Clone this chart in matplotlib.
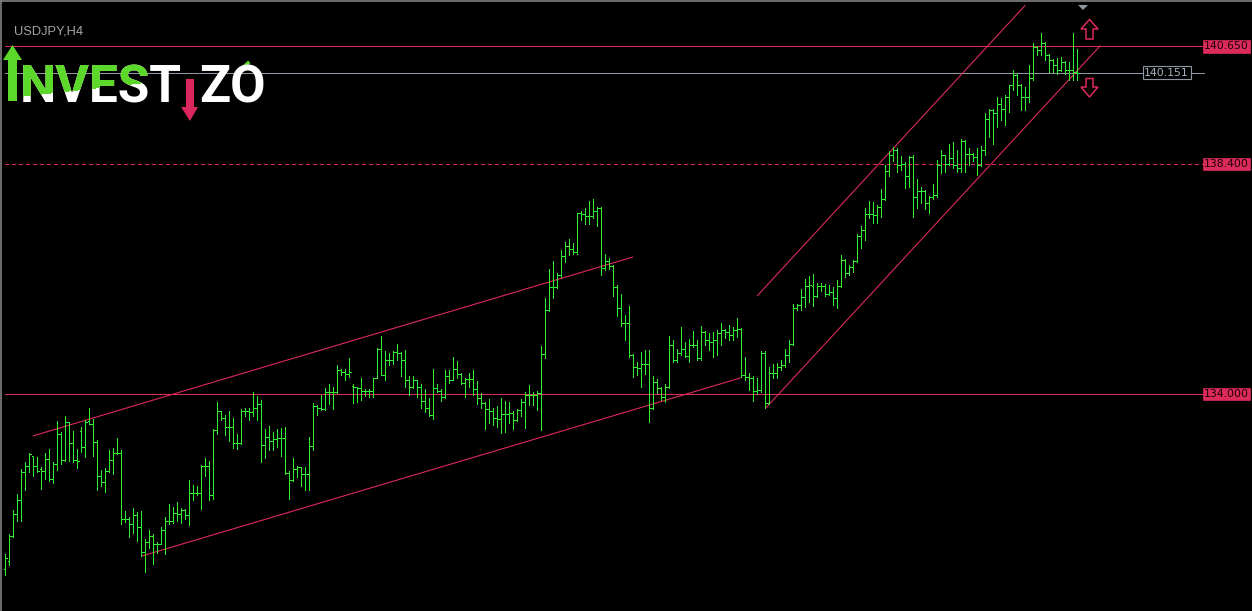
import matplotlib
matplotlib.use('Agg')
import matplotlib.pyplot as plt
from matplotlib.patches import Polygon
from matplotlib.transforms import Bbox
import numpy as np

# USDJPY H4 bars
bar_open = [
    130.66, 130.80, 131.28, 131.70, 131.97, 132.50, 132.62, 132.81, 132.62, 132.56,
    132.52, 132.75, 132.37, 132.66, 133.23, 132.73, 133.46, 133.06, 132.74, 133.29,
    132.99, 133.49, 133.42, 133.08, 132.43, 132.32, 132.53, 132.73, 132.88, 132.88,
    131.61, 131.61, 131.52, 131.68, 131.45, 130.98, 131.17, 131.28, 131.14, 131.14,
    131.39, 131.58, 131.58, 131.72, 131.70, 131.79, 131.69, 132.10, 132.11, 132.10,
    132.63, 132.63, 132.07, 133.31, 133.67, 133.54, 133.37, 133.37, 133.07, 133.07,
    133.68, 133.68, 133.66, 133.74, 133.80, 133.02, 133.17, 133.11, 133.13, 133.15,
    133.16, 132.48, 132.35, 132.56, 132.60, 132.47, 132.47, 133.00, 133.77, 133.74,
    133.72, 134.03, 134.03, 134.04, 134.45, 134.43, 134.38, 134.16, 134.13, 134.11,
    134.06, 134.06, 134.06, 134.30, 134.87, 134.36, 134.66, 134.65, 134.81, 134.78,
    134.65, 134.27, 134.14, 134.26, 134.14, 133.87, 133.74, 133.60, 134.11, 134.06,
    133.95, 134.34, 134.26, 134.48, 134.38, 134.22, 134.28, 134.28, 134.09, 133.92,
    133.82, 133.71, 133.68, 133.55, 133.52, 133.62, 133.61, 133.63, 133.50, 133.70,
    133.85, 133.98, 133.98, 133.98, 134.01, 134.76, 135.61, 136.04, 136.04, 136.28,
    136.64, 136.83, 136.77, 136.72, 137.46, 137.44, 137.40, 137.40, 137.50, 137.55,
    136.42, 136.54, 136.45, 136.04, 135.64, 135.36, 135.36, 134.74, 134.52, 134.49,
    134.57, 134.58, 133.74, 134.23, 134.11, 133.95, 134.13, 134.94, 134.65, 134.78,
    134.87, 134.73, 134.94, 134.94, 134.68, 135.19, 135.03, 135.00, 135.03, 135.16,
    135.22, 135.19, 135.13, 135.22, 135.24, 134.36, 134.32, 134.30, 134.06, 134.08,
    134.79, 133.83, 134.40, 134.40, 134.52, 134.56, 134.75, 134.96, 135.64, 135.70,
    135.86, 136.07, 136.07, 135.87, 136.07, 136.07, 135.91, 135.96, 135.83, 136.07,
    136.56, 136.32, 136.43, 136.55, 137.02, 137.14, 137.44, 137.44, 137.42, 137.58,
    137.74, 138.27, 138.57, 138.67, 138.38, 138.41, 138.17, 138.54, 137.76, 137.89,
    137.88, 137.65, 137.76, 137.81, 138.38, 138.57, 138.41, 138.51, 138.38, 138.32,
    138.84, 138.60, 138.60, 138.54, 138.38, 138.67, 139.27, 139.43, 139.37, 139.54,
    139.46, 139.69, 139.91, 140.10, 139.91, 139.69, 139.69, 140.04, 140.64, 140.58,
    140.71, 140.49, 140.39, 140.29, 140.20, 140.36, 140.20, 140.20, 140.17,
]
bar_high = [
    130.94, 131.33, 131.78, 132.09, 132.56, 132.70, 132.87, 132.81, 132.80, 132.61,
    132.88, 132.95, 132.70, 133.48, 133.27, 133.58, 133.47, 133.29, 132.94, 133.36,
    133.50, 133.73, 133.52, 133.12, 132.55, 132.58, 132.93, 132.96, 133.15, 132.93,
    131.76, 131.65, 131.81, 131.75, 131.76, 131.22, 131.40, 131.32, 131.16, 131.46,
    131.64, 131.90, 131.83, 131.93, 131.81, 131.80, 132.36, 132.25, 132.24, 132.65,
    132.77, 132.72, 133.33, 133.85, 133.68, 133.60, 133.67, 133.55, 133.23, 133.72,
    133.74, 133.74, 134.04, 133.96, 133.88, 133.34, 133.39, 133.27, 133.33, 133.35,
    133.36, 132.53, 132.78, 132.62, 132.61, 132.61, 133.18, 133.82, 133.79, 133.98,
    134.11, 134.19, 134.14, 134.55, 134.47, 134.47, 134.68, 134.20, 134.14, 134.31,
    134.10, 134.09, 134.30, 134.89, 135.11, 134.83, 134.78, 134.82, 134.96, 134.80,
    134.84, 134.34, 134.34, 134.27, 134.19, 134.09, 133.92, 134.48, 134.19, 134.09,
    134.46, 134.46, 134.70, 134.64, 134.40, 134.30, 134.40, 134.45, 134.24, 134.01,
    133.85, 133.90, 133.73, 133.77, 133.92, 133.86, 133.85, 133.68, 133.72, 133.91,
    134.04, 134.17, 134.04, 134.06, 134.92, 135.84, 136.40, 136.54, 136.32, 136.75,
    136.91, 136.96, 136.89, 137.47, 137.51, 137.55, 137.69, 137.74, 137.57, 137.57,
    136.68, 136.61, 136.47, 136.08, 135.91, 135.51, 135.68, 134.76, 134.62, 134.81,
    134.84, 134.85, 134.34, 134.28, 134.14, 134.20, 135.11, 135.04, 134.87, 135.29,
    135.00, 135.06, 135.20, 135.04, 135.30, 135.21, 135.16, 135.19, 135.22, 135.35,
    135.24, 135.33, 135.29, 135.45, 135.26, 134.70, 134.40, 134.34, 134.30, 134.83,
    134.83, 134.52, 134.57, 134.60, 134.66, 134.87, 135.03, 135.73, 135.73, 136.01,
    136.21, 136.25, 136.30, 136.13, 136.12, 136.10, 136.08, 136.05, 136.18, 136.66,
    136.59, 136.47, 136.56, 137.07, 137.21, 137.55, 137.69, 137.68, 137.62, 137.92,
    138.38, 138.64, 138.72, 138.70, 138.55, 138.43, 138.56, 138.57, 138.11, 137.97,
    137.90, 137.79, 138.01, 138.48, 138.67, 138.58, 138.78, 138.83, 138.67, 138.88,
    138.86, 138.70, 138.62, 138.70, 138.75, 139.37, 139.46, 139.46, 139.69, 139.66,
    139.73, 139.92, 140.20, 140.12, 139.94, 139.88, 140.29, 140.71, 140.66, 140.90,
    140.73, 140.51, 140.41, 140.42, 140.45, 140.38, 140.36, 140.91, 140.61,
]
bar_low = [
    130.54, 130.73, 131.26, 131.58, 131.58, 132.16, 132.51, 132.43, 132.51, 132.19,
    132.37, 132.34, 132.29, 132.55, 132.66, 132.72, 132.72, 132.69, 132.59, 132.89,
    132.80, 133.42, 132.82, 132.16, 132.24, 132.13, 132.50, 132.47, 132.85, 131.51,
    131.56, 131.27, 131.35, 131.19, 130.90, 130.60, 131.05, 130.75, 130.96, 131.13,
    130.93, 131.52, 131.54, 131.58, 131.54, 131.61, 131.50, 131.97, 132.07, 131.80,
    132.44, 131.97, 131.99, 133.24, 133.50, 133.22, 133.10, 132.96, 132.95, 133.04,
    133.58, 133.50, 133.57, 133.50, 132.70, 132.77, 132.93, 132.92, 132.99, 132.81,
    132.47, 131.99, 132.34, 132.42, 132.24, 132.16, 132.16, 132.92, 133.60, 133.69,
    133.70, 133.81, 133.72, 134.01, 134.36, 134.26, 134.33, 133.83, 133.85, 133.89,
    133.97, 133.94, 133.94, 134.30, 134.36, 134.26, 134.55, 134.57, 134.66, 134.34,
    134.14, 133.98, 134.11, 133.94, 133.73, 133.66, 133.57, 133.53, 134.04, 133.87,
    133.92, 134.22, 134.26, 134.30, 134.20, 133.95, 134.14, 133.98, 133.81, 133.73,
    133.34, 133.44, 133.41, 133.36, 133.25, 133.27, 133.44, 133.34, 133.48, 133.58,
    133.35, 133.79, 133.79, 133.69, 133.31, 134.68, 135.58, 135.83, 136.02, 136.24,
    136.53, 136.66, 136.68, 136.68, 137.33, 137.25, 137.26, 137.36, 137.22, 136.28,
    136.37, 136.40, 135.87, 135.49, 135.30, 135.03, 134.71, 134.32, 134.36, 134.13,
    134.39, 133.47, 133.72, 134.01, 133.88, 133.85, 134.11, 134.62, 134.62, 134.74,
    134.71, 134.62, 134.90, 134.65, 134.65, 134.94, 134.84, 134.70, 134.75, 134.94,
    135.07, 135.03, 135.03, 135.10, 134.33, 134.27, 134.08, 133.87, 134.00, 134.03,
    133.73, 133.80, 134.30, 134.30, 134.46, 134.52, 134.62, 134.94, 135.61, 135.61,
    135.67, 135.77, 135.69, 135.85, 135.98, 135.87, 135.89, 135.70, 135.65, 136.05,
    136.24, 136.28, 136.34, 136.53, 136.80, 136.95, 137.36, 137.27, 137.27, 137.39,
    137.72, 138.17, 138.45, 138.25, 138.29, 137.95, 137.97, 137.39, 137.55, 137.65,
    137.54, 137.47, 137.74, 137.77, 138.22, 138.24, 138.38, 138.32, 138.24, 138.25,
    138.25, 138.38, 138.46, 138.19, 138.36, 138.58, 138.92, 138.78, 139.11, 139.24,
    139.15, 139.40, 139.82, 139.72, 139.43, 139.43, 139.59, 140.01, 140.49, 140.49,
    140.39, 140.17, 140.17, 140.13, 140.18, 140.13, 140.01, 140.01, 140.01,
]
bar_close = [
    130.87, 131.28, 131.70, 131.97, 132.50, 132.62, 132.85, 132.62, 132.53, 132.52,
    132.75, 132.37, 132.66, 133.23, 132.73, 133.46, 133.06, 132.74, 132.72, 132.99,
    133.46, 133.42, 133.08, 132.43, 132.32, 132.53, 132.73, 132.88, 132.88, 131.61,
    131.61, 131.52, 131.68, 131.45, 130.98, 131.17, 131.28, 131.14, 131.14, 131.39,
    131.58, 131.58, 131.72, 131.70, 131.79, 131.69, 132.10, 132.11, 132.10, 132.63,
    132.63, 132.07, 133.31, 133.67, 133.54, 133.37, 133.37, 133.07, 133.07, 133.68,
    133.68, 133.66, 133.74, 133.80, 133.02, 133.17, 133.11, 133.13, 133.15, 133.16,
    132.48, 132.35, 132.56, 132.60, 132.47, 132.47, 133.00, 133.77, 133.74, 133.72,
    134.03, 134.03, 134.04, 134.45, 134.43, 134.38, 134.43, 134.13, 134.11, 134.06,
    134.06, 134.06, 134.30, 134.87, 134.36, 134.66, 134.65, 134.81, 134.78, 134.65,
    134.27, 134.14, 134.26, 134.14, 133.87, 133.74, 133.60, 134.11, 134.06, 133.95,
    134.34, 134.26, 134.48, 134.38, 134.22, 134.28, 134.28, 134.09, 133.92, 133.82,
    133.71, 133.68, 133.55, 133.52, 133.62, 133.61, 133.63, 133.50, 133.70, 133.85,
    133.98, 133.98, 133.98, 134.01, 134.76, 135.61, 136.04, 136.04, 136.28, 136.64,
    136.83, 136.77, 136.72, 137.46, 137.44, 137.40, 137.40, 137.50, 137.55, 136.42,
    136.54, 136.45, 136.04, 135.64, 135.36, 135.36, 134.74, 134.52, 134.49, 134.57,
    134.58, 133.74, 134.23, 134.11, 133.95, 134.13, 134.94, 134.65, 134.78, 134.87,
    134.73, 134.94, 134.94, 134.68, 135.19, 135.03, 135.00, 135.03, 135.16, 135.22,
    135.19, 135.13, 135.22, 135.24, 134.36, 134.32, 134.30, 134.06, 134.08, 134.79,
    133.83, 134.40, 134.40, 134.52, 134.56, 134.75, 134.96, 135.64, 135.70, 135.86,
    136.07, 136.09, 135.87, 136.07, 136.07, 135.91, 135.96, 135.83, 136.07, 136.56,
    136.32, 136.43, 136.55, 137.02, 137.14, 137.44, 137.44, 137.42, 137.58, 137.74,
    138.27, 138.57, 138.67, 138.38, 138.41, 138.17, 138.54, 137.76, 137.89, 137.88,
    137.65, 137.76, 137.81, 138.38, 138.57, 138.41, 138.51, 138.38, 138.32, 138.84,
    138.60, 138.60, 138.54, 138.38, 138.67, 139.27, 139.43, 139.37, 139.54, 139.46,
    139.69, 139.91, 140.10, 139.91, 139.69, 139.69, 140.04, 140.64, 140.58, 140.71,
    140.49, 140.39, 140.29, 140.20, 140.36, 140.20, 140.20, 140.17, 140.15,
]

# horizontal levels drawn on the chart
level_prices = [140.650, 138.400, 134.000]
level_labels = ['140.650', '138.400', '134.000']
bid_price = 140.151
bid_label = '140.151'

# trend channels: (bar index start, bar index end), (price start, price end)
channel_lines = [
    ([6.99, 156.85], [133.20, 136.62]),
    ([34.1, 183.9], [130.90, 134.31]),
    ([188.0, 254.9], [135.88, 141.43]),
    ([190.1, 273.7], [133.73, 140.66]),
]

symbol_title = 'USDJPY,H4'

W, H = 1252, 611
GREEN = '#30f030'
CRIMSON = '#dc2a5a'
GRAY = '#8e98a4'
LOGO_GREEN = '#5bd82a'
PX = 0.72  # one pixel in points


def fxy(x, y):
    # pixel position -> figure fraction
    return x / W, 1 - y / H


fig = plt.figure(figsize=(W / 100, H / 100), dpi=100)
fig.patch.set_facecolor('black')
ax = fig.add_axes([0, 0, 1, 1])
ax.set_axis_off()
ax.set_xlim(-1.325, 311.675)
ax.set_ylim(129.849, 141.538)

idx = np.arange(len(bar_close))

# levels
for p in level_prices:
    ls = (0, (3, 3)) if abs(p - 138.4) < 1e-6 else '-'
    ax.axhline(p, xmin=5 / W, xmax=1204 / W, color=CRIMSON, lw=PX, linestyle=ls,
               antialiased=False, zorder=1)
ax.axhline(bid_price, xmin=5 / W, xmax=1204 / W, color=GRAY, lw=PX, antialiased=False, zorder=1)

# channels
for xs, ys in channel_lines:
    ax.plot(xs, ys, color=CRIMSON, lw=0.8, zorder=2)

# OHLC bars
ax.vlines(idx, bar_low, bar_high, color=GREEN, lw=PX, antialiased=False, zorder=3)
ax.hlines(bar_open, idx - 0.45, idx, color=GREEN, lw=PX, antialiased=False, zorder=3)
ax.hlines(bar_close, idx, idx + 0.45, color=GREEN, lw=PX, antialiased=False, zorder=3)

# price labels on the right
trans = ax.get_yaxis_transform()
for p, lab in zip(level_prices, level_labels):
    ax.text(1226.5 / W, p, lab, transform=trans, ha='center', va='center',
            fontsize=7.8, color='#1a0008', family='DejaVu Sans',
            bbox=dict(boxstyle='square,pad=0.12', fc=CRIMSON, ec=CRIMSON, lw=0.5), zorder=5)
ax.text(1166.5 / W, bid_price, bid_label, transform=trans, ha='center', va='center',
        fontsize=7.8, color='#a8b0bb', family='DejaVu Sans',
        bbox=dict(boxstyle='square,pad=0.15', fc='black', ec=GRAY, lw=0.8), zorder=5)

# symbol title
fig.text(*fxy(14, 35), symbol_title, fontsize=9.3, color='#a4a4a4',
         family='Liberation Sans', ha='left', va='baseline')

# logo: green arrow as first I
up = [(12.5, 45), (22, 60), (17, 60), (17, 101), (8, 101), (8, 60), (3, 60)]
fig.patches.append(Polygon([fxy(*p) for p in up], closed=True, fc=LOGO_GREEN, ec='none',
                           transform=fig.transFigure))
fig.text(*fxy(20, 103), 'NVEST', fontsize=37, fontweight='bold', color='white',
         family='Roboto', ha='left', va='baseline')
# green upper part of NVES, slanted boundary, done with narrow clip strips
for sx in range(18, 150, 3):
    yb = 99 - sx * 0.11
    g = fig.text(*fxy(20, 103), 'NVEST', fontsize=37, fontweight='bold', color=LOGO_GREEN,
                 family='Roboto', ha='left', va='baseline')
    g.set_clip_box(Bbox([[sx, H - yb], [sx + 3, H - 30]]))
down = [(186, 79), (194, 79), (194, 107), (198, 107), (190, 121), (181, 107), (186, 107)]
fig.patches.append(Polygon([fxy(*p) for p in down], closed=True, fc='#d9265c', ec='none',
                           transform=fig.transFigure))
fig.text(*fxy(199, 103), 'ZO', fontsize=37, fontweight='bold', color='white',
         family='Roboto', ha='left', va='baseline')
fig.lines.append(plt.Line2D([238 / W, 248 / W], [1 - 72 / H, 1 - 63 / H], color=LOGO_GREEN,
                            lw=2.5, transform=fig.transFigure))

# hollow arrows near the last bars
arr_up = [(1089.5, 19.5), (1098, 29), (1093, 29), (1093, 39), (1086, 39), (1086, 29), (1081, 29)]
arr_dn = [(1086, 78.5), (1093, 78.5), (1093, 87), (1098, 87), (1089.5, 97), (1081, 87), (1086, 87)]
for shape in (arr_up, arr_dn):
    fig.patches.append(Polygon([fxy(*p) for p in shape], closed=True, fc='none', ec=CRIMSON,
                               lw=1.1, transform=fig.transFigure))

# shift marker
fig.patches.append(Polygon([fxy(1078, 5), fxy(1088, 5), fxy(1083, 10)], closed=True,
                           fc='#8c96a0', ec='none', transform=fig.transFigure))

# frame
fig.lines.append(plt.Line2D([0.8 / W, 0.8 / W], [0, 1], color='#808080', lw=1.2,
                            transform=fig.transFigure))
fig.lines.append(plt.Line2D([0, 1], [1 - 0.8 / H, 1 - 0.8 / H], color='#808080', lw=1.2,
                            transform=fig.transFigure))

fig.savefig('out.png', dpi=100, facecolor='black')
